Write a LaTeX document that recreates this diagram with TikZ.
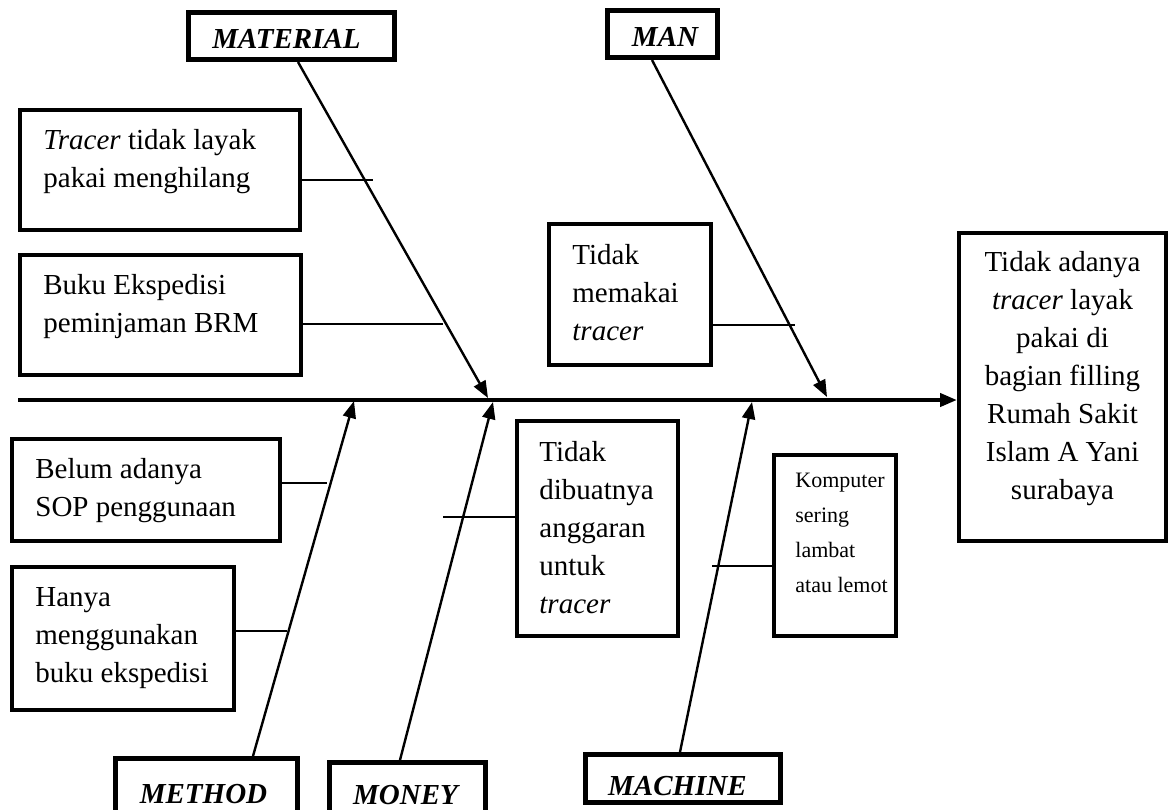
\documentclass[tikz,border=0pt]{standalone}
\usepackage{fontspec}
\setmainfont{Liberation Serif}
\usetikzlibrary{arrows.meta}

\tikzset{
  catbox/.style={draw, line width=2.5pt, inner sep=0pt, minimum height=23.5pt},
  cattext/.style={anchor=base, inner sep=0pt, font=\fontsize{14.5}{17}\selectfont\bfseries\itshape},
  causebox/.style={draw, line width=2pt, inner sep=0pt},
  causetext/.style={anchor=north west, align=left, inner sep=0pt, font=\fontsize{14.5}{19}\selectfont},
  bone/.style={line width=1.2pt, -{Triangle[length=8.5pt,width=6.5pt]}},
  twig/.style={line width=1.2pt},
  spine/.style={line width=2pt, -{Triangle[length=8.5pt,width=6.5pt]}}
}

\begin{document}
\begin{tikzpicture}[x=0.5pt, y=-0.5pt]
    \useasboundingbox (0,0) rectangle (1170,809);

    % Effect and spine
    \node[causebox, minimum width=103.5pt, minimum height=154pt] (effect) at (1062.5,387) {};
    \node[causetext, align=center, anchor=north] (effecttxt) at (1062.5,251)
        {Tidak adanya\\\emph{tracer} layak\\pakai di\\bagian filling\\Rumah Sakit\\Islam A Yani\\surabaya};
    \coordinate (tail) at (18,400);
    \draw[spine] (tail) -- (tail -| effect.west);

    % Category boxes
    \node[catbox, minimum width=103pt] (matl) at (291.5,36) {};
    \node[cattext] (matltxt) at (286.5,48) {MATERIAL};
    \node[catbox, minimum width=55pt] (man) at (662.5,34) {};
    \node[cattext] (mantxt) at (665,46) {MAN};
    \node[catbox, minimum width=91pt, minimum height=34.5pt] (method) at (206.5,793) {};
    \node[cattext] (methodtxt) at (203.5,803) {METHOD};
    \node[catbox, minimum width=78pt, minimum height=32.5pt] (money) at (407.5,795) {};
    \node[cattext] (moneytxt) at (405.5,804) {MONEY};
    \node[catbox, minimum width=97.5pt, minimum height=24pt] (machine) at (683,778.5) {};
    \node[cattext] (machinetxt) at (677.5,795) {MACHINE};

    % Bones onto the spine
    \coordinate (matlhead) at (488,398);
    \coordinate (manhead) at (827,397);
    \coordinate (methodhead) at (354,401);
    \coordinate (moneyhead) at (493,402);
    \coordinate (machinehead) at (752,402);
    \draw[bone] ([shift={(6.5,0)}]matl.south) -- (matlhead);
    \draw[bone] ([shift={(-10.5,0)}]man.south) -- (manhead);
    \draw[bone] ([shift={(46.5,0)}]method.north) -- (methodhead);
    \draw[bone] ([shift={(-7.5,0)}]money.north) -- (moneyhead);
    \draw[bone] ([shift={(-3,0)}]machine.north) -- (machinehead);

    % Causes: MATERIAL
    \node[causebox, minimum width=140pt, minimum height=60pt] (tracer) at (160,170) {};
    \node[causetext] (tracertxt) at (43,129) {\emph{Tracer} tidak layak\\pakai menghilang};
    \node[causebox, minimum width=140.5pt, minimum height=60pt] (buku) at (160.5,315) {};
    \node[causetext] (bukutxt) at (43,274) {Buku Ekspedisi\\peminjaman BRM};

    % Causes: MAN
    \node[causebox, minimum width=81pt, minimum height=70.5pt] (memakai) at (630,294.5) {};
    \node[causetext] (memakaitxt) at (572,244) {Tidak\\memakai\\\emph{tracer}};

    % Causes: METHOD
    \node[causebox, minimum width=134pt, minimum height=51pt] (sop) at (146,490) {};
    \node[causetext] (soptxt) at (35,458) {Belum adanya\\SOP penggunaan};
    \node[causebox, minimum width=111pt, minimum height=71.5pt] (hanya) at (123,638.5) {};
    \node[causetext] (hanyatxt) at (35,587) {Hanya\\menggunakan\\buku ekspedisi};

    % Causes: MONEY
    \node[causebox, minimum width=80.5pt, minimum height=107.5pt] (anggaran) at (597.5,528.5) {};
    \node[causetext] (anggarantxt) at (539,441) {Tidak\\dibuatnya\\anggaran\\untuk\\\emph{tracer}};

    % Causes: MACHINE
    \node[causebox, minimum width=61pt, minimum height=90.5pt] (komputer) at (835,545.5) {};
    \node[causetext, font=\fontsize{11}{17.5}\selectfont] (komputertxt) at (795,473)
        {Komputer\\sering\\lambat\\atau lemot};

    % Twigs from the causes onto the bones
    \coordinate (tracertip) at (373,180);
    \coordinate (bukutip) at (443,324);
    \coordinate (memakaitip) at (795,325);
    \coordinate (soptip) at (327,483);
    \coordinate (hanyatip) at (287,631);
    \coordinate (anggarantip) at (443,517);
    \coordinate (komputertip) at (712,566);
    \draw[twig] (tracer.east |- tracertip) -- (tracertip);
    \draw[twig] (buku.east |- bukutip) -- (bukutip);
    \draw[twig] (memakai.east |- memakaitip) -- (memakaitip);
    \draw[twig] (sop.east |- soptip) -- (soptip);
    \draw[twig] (hanya.east |- hanyatip) -- (hanyatip);
    \draw[twig] (anggaran.west |- anggarantip) -- (anggarantip);
    \draw[twig] (komputer.west |- komputertip) -- (komputertip);
\end{tikzpicture}
\end{document}
